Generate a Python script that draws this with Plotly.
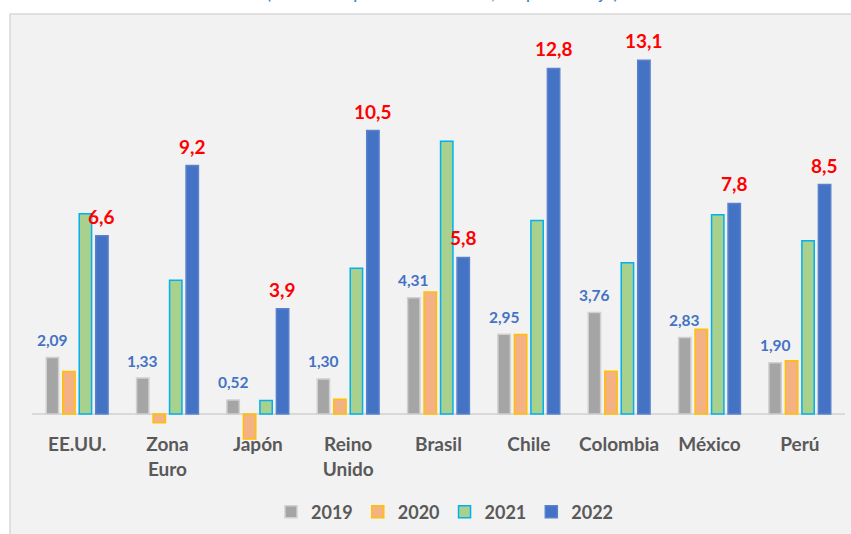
import plotly.graph_objects as go

# ---- data ----
categories = ["EE.UU.", "Zona<br>Euro", "Japón", "Reino<br>Unido", "Brasil",
              "Chile", "Colombia", "México", "Perú"]
years = ["2019", "2020", "2021", "2022"]
v2019 = [2.09, 1.33, 0.52, 1.30, 4.31, 2.95, 3.76, 2.83, 1.90]
v2020 = [1.57, -0.32, -0.93, 0.55, 4.52, 2.94, 1.58, 3.14, 1.97]
v2021 = [7.42, 4.95, 0.50, 5.40, 10.10, 7.17, 5.60, 7.38, 6.42]
v2022 = [6.6, 9.2, 3.9, 10.5, 5.8, 12.8, 13.1, 7.8, 8.5]
title_text = "(Variación porcentual anual, en porcentaje)"

# ---- styles ----
fills = ["#a5a5a5", "#f4b183", "#a9d18e", "#4472c4"]
edges = ["#d0d0d0", "#ffc000", "#00b0f0", "#5a82cc"]
FONT = "Lato, Carlito, 'Open Sans', sans-serif"
GRAY_TXT = "#595959"

W, H = 851, 534
ML, MR, MT, MB = 32, 6, 22, 88
plot_w = W - ML - MR
plot_h = H - MT - MB
zero_px_from_bottom = 32
px_per_unit = 27.0
ymin = -zero_px_from_bottom / px_per_unit
ymax = (plot_h - zero_px_from_bottom) / px_per_unit
BARGAP, BARGROUPGAP = 0.27, 0.25

fig = go.Figure()
for name, vals, fc, ec in zip(years, [v2019, v2020, v2021, v2022], fills, edges):
    fig.add_trace(go.Bar(
        x=categories, y=vals, name=name,
        marker=dict(color=fc, line=dict(color=ec, width=1.5)),
        hoverinfo="skip",
    ))

# bar offset in pixels for annotations
cat_px = plot_w / len(categories)
slot_px = (1 - BARGAP) * cat_px / 4

annotations = []
for c, v in zip(categories, v2019):
    annotations.append(dict(
        x=c, y=v, xref="x", yref="y", text=f"{v:.2f}".replace(".", ","),
        showarrow=False, xshift=-1.5 * slot_px, yshift=17.5, yanchor="middle",
        font=dict(family=FONT, size=15.5, color="#4472c4", weight="bold"),
    ))
for c, v in zip(categories, v2022):
    annotations.append(dict(
        x=c, y=v, xref="x", yref="y", text=f"{v:.1f}".replace(".", ","),
        showarrow=False, xshift=1.5 * slot_px, yshift=19.5, yanchor="middle",
        font=dict(family=FONT, size=19, color="#ff0000", weight="bold"),
    ))
# partially visible subtitle at the very top edge (cut off as in the reference)
annotations.append(dict(
    x=0.505, y=1 + (MT - 5) / plot_h, xref="paper", yref="paper",
    xanchor="center", yanchor="bottom", text=title_text, showarrow=False,
    font=dict(family=FONT, size=19, color="#3a85cc"),
))

fig.update_layout(
    width=W, height=H,
    margin=dict(l=ML, r=MR, t=MT, b=MB, pad=0, autoexpand=False),
    paper_bgcolor="white",
    plot_bgcolor="rgba(0,0,0,0)",
    barmode="group", bargap=BARGAP, bargroupgap=BARGROUPGAP,
    font=dict(family=FONT, color=GRAY_TXT),
    showlegend=True,
    legend=dict(
        orientation="h", xref="container", yref="container",
        x=445 / W, xanchor="center",
        y=1 - 512 / H, yanchor="middle",
        font=dict(family=FONT, size=18, color=GRAY_TXT, weight="bold"),
        bgcolor="rgba(0,0,0,0)", itemclick=False,
    ),
    annotations=annotations,
    shapes=[dict(
        type="rect", xref="paper", yref="paper", layer="below",
        x0=(10 - ML) / plot_w, x1=1.05,
        y0=-(H + 10 - (MT + plot_h)) / plot_h, y1=1 + (MT - 14) / plot_h,
        fillcolor="#f2f2f2", line=dict(color="#d9d9d9", width=1.5),
    )],
    xaxis=dict(
        anchor="free", position=zero_px_from_bottom / plot_h, automargin=False,
        showgrid=False, showline=False, zeroline=False,
        ticks="outside", ticklen=13, tickcolor="rgba(0,0,0,0)",
        tickfont=dict(family=FONT, size=19, color=GRAY_TXT, weight="bold"),
    ),
    yaxis=dict(
        range=[ymin, ymax], showgrid=False, showticklabels=False, automargin=False,
        zeroline=True, zerolinecolor="#d9d9d9", zerolinewidth=1.5,
        showline=False, ticks="",
    ),
)

fig.write_html(
    "out.html",
    config={"displayModeBar": False, "staticPlot": True},
    post_script="document.body.style.margin='0';document.body.style.overflow='hidden';",
)
